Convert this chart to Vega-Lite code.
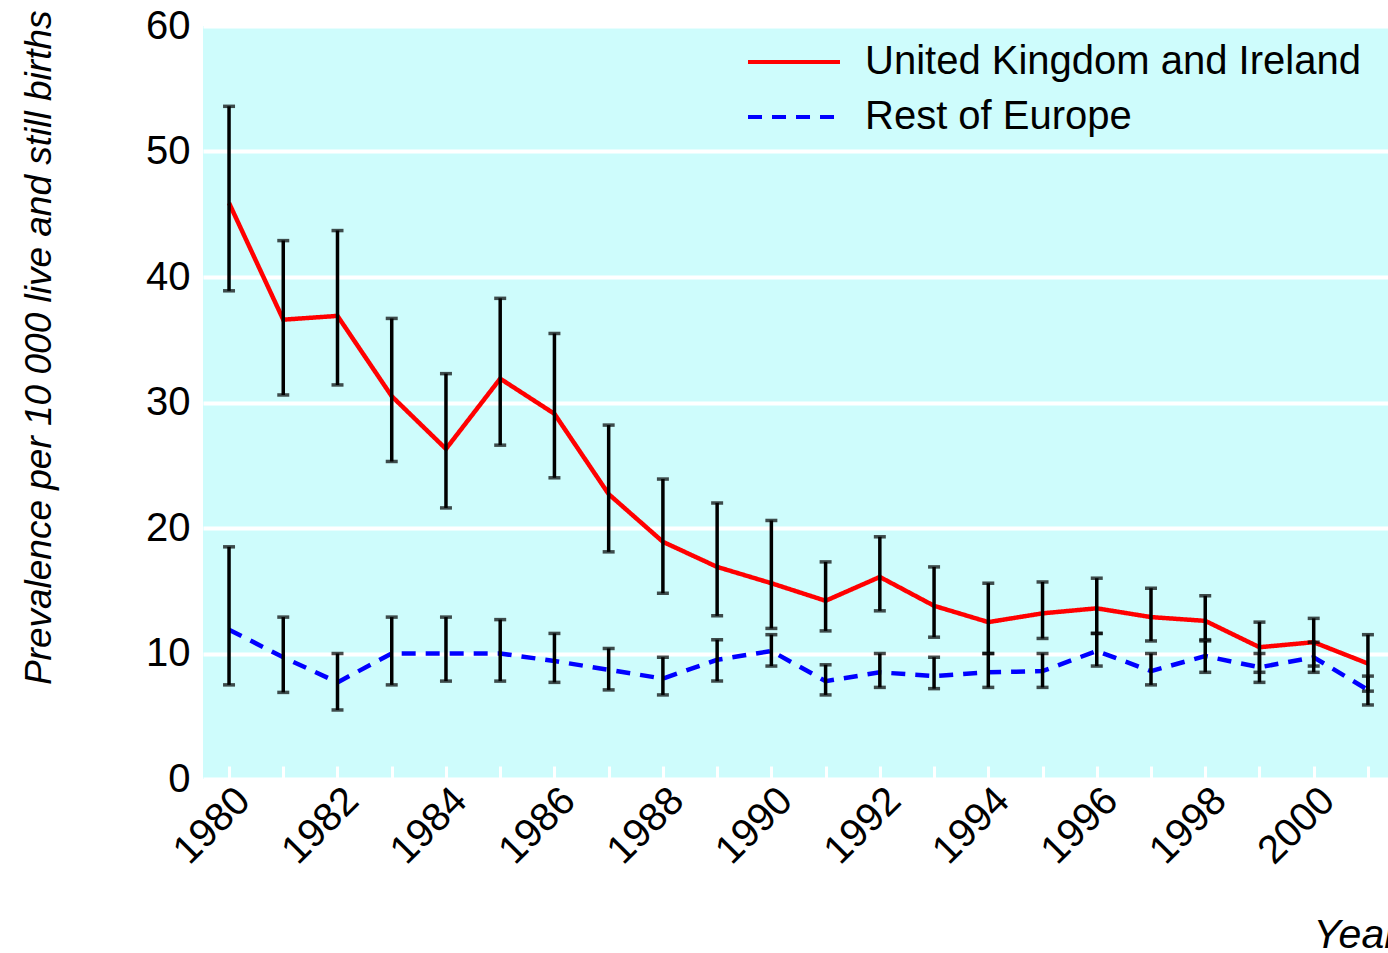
{
  "$schema": "https://vega.github.io/schema/vega-lite/v6.json",
  "width": 1185,
  "height": 753,
  "autosize": {"type": "none"},
  "padding": {"left": 203, "top": 26, "right": 0, "bottom": 174},
  "background": "white",
  "config": {"view": {"fill": "#cefcfc", "stroke": null}, "font": "Liberation Sans"},
  "data": {"values": [
    {"year": 1980, "series": "United Kingdom and Ireland", "value": 45.9, "low": 38.9, "high": 53.6},
    {"year": 1981, "series": "United Kingdom and Ireland", "value": 36.6, "low": 30.6, "high": 42.9},
    {"year": 1982, "series": "United Kingdom and Ireland", "value": 36.9, "low": 31.4, "high": 43.7},
    {"year": 1983, "series": "United Kingdom and Ireland", "value": 30.5, "low": 25.3, "high": 36.7},
    {"year": 1984, "series": "United Kingdom and Ireland", "value": 26.3, "low": 21.6, "high": 32.3},
    {"year": 1985, "series": "United Kingdom and Ireland", "value": 31.9, "low": 26.6, "high": 38.3},
    {"year": 1986, "series": "United Kingdom and Ireland", "value": 29.1, "low": 24.0, "high": 35.5},
    {"year": 1987, "series": "United Kingdom and Ireland", "value": 22.7, "low": 18.1, "high": 28.2},
    {"year": 1988, "series": "United Kingdom and Ireland", "value": 18.9, "low": 14.8, "high": 23.9},
    {"year": 1989, "series": "United Kingdom and Ireland", "value": 16.9, "low": 13.0, "high": 22.0},
    {"year": 1990, "series": "United Kingdom and Ireland", "value": 15.6, "low": 12.0, "high": 20.6},
    {"year": 1991, "series": "United Kingdom and Ireland", "value": 14.2, "low": 11.8, "high": 17.3},
    {"year": 1992, "series": "United Kingdom and Ireland", "value": 16.1, "low": 13.4, "high": 19.3},
    {"year": 1993, "series": "United Kingdom and Ireland", "value": 13.8, "low": 11.3, "high": 16.9},
    {"year": 1994, "series": "United Kingdom and Ireland", "value": 12.5, "low": 10.0, "high": 15.6},
    {"year": 1995, "series": "United Kingdom and Ireland", "value": 13.2, "low": 11.2, "high": 15.7},
    {"year": 1996, "series": "United Kingdom and Ireland", "value": 13.6, "low": 11.6, "high": 16.0},
    {"year": 1997, "series": "United Kingdom and Ireland", "value": 12.9, "low": 11.0, "high": 15.2},
    {"year": 1998, "series": "United Kingdom and Ireland", "value": 12.6, "low": 11.1, "high": 14.6},
    {"year": 1999, "series": "United Kingdom and Ireland", "value": 10.5, "low": 8.5, "high": 12.5},
    {"year": 2000, "series": "United Kingdom and Ireland", "value": 10.9, "low": 9.0, "high": 12.8},
    {"year": 2001, "series": "United Kingdom and Ireland", "value": 9.2, "low": 7.0, "high": 11.5},
    {"year": 1980, "series": "Rest of Europe", "value": 11.9, "low": 7.5, "high": 18.5},
    {"year": 1981, "series": "Rest of Europe", "value": 9.7, "low": 6.9, "high": 12.9},
    {"year": 1982, "series": "Rest of Europe", "value": 7.7, "low": 5.5, "high": 10.0},
    {"year": 1983, "series": "Rest of Europe", "value": 10.0, "low": 7.5, "high": 12.9},
    {"year": 1984, "series": "Rest of Europe", "value": 10.0, "low": 7.8, "high": 12.9},
    {"year": 1985, "series": "Rest of Europe", "value": 10.0, "low": 7.8, "high": 12.7},
    {"year": 1986, "series": "Rest of Europe", "value": 9.4, "low": 7.7, "high": 11.6},
    {"year": 1987, "series": "Rest of Europe", "value": 8.7, "low": 7.1, "high": 10.4},
    {"year": 1988, "series": "Rest of Europe", "value": 8.0, "low": 6.7, "high": 9.7},
    {"year": 1989, "series": "Rest of Europe", "value": 9.5, "low": 7.8, "high": 11.1},
    {"year": 1990, "series": "Rest of Europe", "value": 10.2, "low": 9.0, "high": 11.5},
    {"year": 1991, "series": "Rest of Europe", "value": 7.8, "low": 6.7, "high": 9.1},
    {"year": 1992, "series": "Rest of Europe", "value": 8.5, "low": 7.3, "high": 10.0},
    {"year": 1993, "series": "Rest of Europe", "value": 8.2, "low": 7.2, "high": 9.7},
    {"year": 1994, "series": "Rest of Europe", "value": 8.5, "low": 7.3, "high": 10.0},
    {"year": 1995, "series": "Rest of Europe", "value": 8.6, "low": 7.3, "high": 10.0},
    {"year": 1996, "series": "Rest of Europe", "value": 10.2, "low": 9.0, "high": 11.6},
    {"year": 1997, "series": "Rest of Europe", "value": 8.6, "low": 7.5, "high": 10.0},
    {"year": 1998, "series": "Rest of Europe", "value": 9.8, "low": 8.5, "high": 11.0},
    {"year": 1999, "series": "Rest of Europe", "value": 8.9, "low": 7.7, "high": 10.0},
    {"year": 2000, "series": "Rest of Europe", "value": 9.7, "low": 8.5, "high": 10.9},
    {"year": 2001, "series": "Rest of Europe", "value": 7.1, "low": 5.9, "high": 8.2}
  ]},
  "layer": [
    {
      "mark": {"type": "line", "strokeWidth": 4.5},
      "encoding": {
        "x": {
          "field": "year", "type": "quantitative", "title": "Year",
          "scale": {"domain": [1979.52, 2001.37], "nice": false, "zero": false},
          "axis": {
            "values": [1980,1981,1982,1983,1984,1985,1986,1987,1988,1989,1990,1991,1992,1993,1994,1995,1996,1997,1998,1999,2000,2001],
            "labelExpr": "datum.value % 2 == 0 ? datum.value : ''",
            "labelAngle": -45, "labelAlign": "right", "labelBaseline": "top",
            "labelFontSize": 40, "labelColor": "black", "labelPadding": 14, "labelDx": 8,
            "labelOverlap": false, "labelFlush": false, "labelBound": false,
            "domain": false, "grid": false,
            "ticks": true, "tickColor": "white", "tickSize": -13, "tickWidth": 3,
            "title": "Year", "titleFont": "Liberation Sans", "titleFontStyle": "italic",
            "titleFontWeight": "normal", "titleFontSize": 41, "titleColor": "black",
            "titleX": 1110, "titleY": 168, "titleAlign": "left", "titleBaseline": "alphabetic"
          }
        },
        "y": {
          "field": "value", "type": "quantitative",
          "title": "Prevalence per 10 000 live and still births",
          "scale": {"domain": [0, 60], "nice": false},
          "axis": {
            "values": [0, 10, 20, 30, 40, 50, 60],
            "labelFontSize": 40, "labelColor": "black", "labelPadding": 13,
            "ticks": false, "domain": false,
            "grid": true, "gridColor": "white", "gridWidth": 4, "gridOpacity": 1,
            "title": "Prevalence per 10 000 live and still births",
            "titleFont": "Liberation Sans", "titleFontStyle": "italic",
            "titleFontWeight": "normal", "titleFontSize": 37, "titleColor": "black",
            "titleAngle": -90, "titleAlign": "right", "titleBaseline": "alphabetic",
            "titleX": -153, "titleY": -16
          }
        },
        "color": {
          "field": "series", "type": "nominal",
          "scale": {"domain": ["United Kingdom and Ireland", "Rest of Europe"], "range": ["#ff0000", "#0000ff"]},
          "legend": {
            "title": null, "orient": "none", "legendX": 571, "legendY": 16,
            "symbolType": "M-3,0H3", "symbolSize": 940, "symbolStrokeWidth": 4,
            "labelFont": "Liberation Sans", "labelFontSize": 40, "labelColor": "black",
            "labelOffset": 51, "rowPadding": 15, "padding": 0, "labelLimit": 1000
          }
        },
        "strokeDash": {
          "field": "series", "type": "nominal",
          "scale": {"domain": ["United Kingdom and Ireland", "Rest of Europe"], "range": [[1, 0], [14, 10]]},
          "legend": {
            "title": null, "orient": "none", "legendX": 571, "legendY": 16,
            "symbolType": "M-3,0H3", "symbolSize": 940, "symbolStrokeWidth": 4,
            "labelFont": "Liberation Sans", "labelFontSize": 40, "labelColor": "black",
            "labelOffset": 51, "rowPadding": 15, "padding": 0, "labelLimit": 1000
          }
        }
      }
    },
    {
      "mark": {"type": "errorbar", "color": "black", "thickness": 3.5, "ticks": {"size": 12, "thickness": 3.5}, "rule": {"strokeWidth": 3.5}},
      "encoding": {
        "x": {"field": "year", "type": "quantitative", "title": "Year"},
        "y": {"field": "low", "type": "quantitative", "title": "Prevalence per 10 000 live and still births"},
        "y2": {"field": "high"}
      }
    }
  ]
}
